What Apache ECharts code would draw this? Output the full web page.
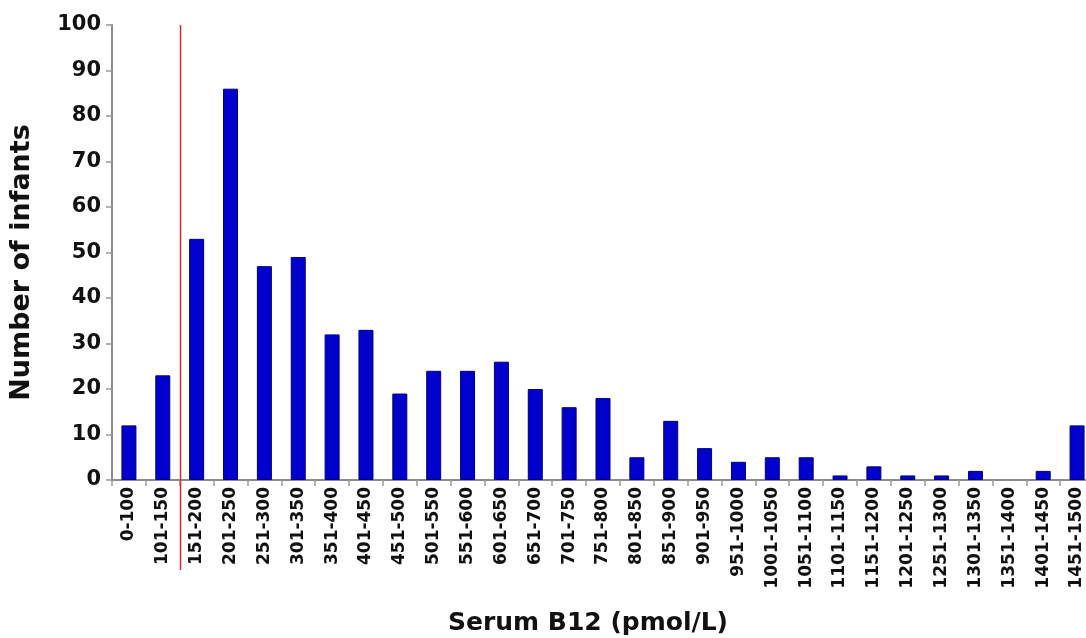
<!DOCTYPE html>
<html>
<head>
<meta charset="utf-8">
<script src="https://cdn.jsdelivr.net/npm/echarts@6/dist/echarts.min.js"></script>
<style>
  html, body { margin: 0; padding: 0; background: #fff; }
  #chart { width: 1086px; height: 638px; }
</style>
</head>
<body>
<div id="chart"></div>
<script>
  // B12 bins (pmol/L)
  var categories = ['0-100', '101-150', '151-200', '201-250', '251-300', '301-350', '351-400',
    '401-450', '451-500', '501-550', '551-600', '601-650', '651-700', '701-750', '751-800',
    '801-850', '851-900', '901-950', '951-1000', '1001-1050', '1051-1100', '1101-1150',
    '1151-1200', '1201-1250', '1251-1300', '1301-1350', '1351-1400', '1401-1450', '1451-1500'];
  var counts = [12, 23, 53, 86, 47, 49, 32, 33, 19, 24, 24, 26, 20, 16, 18,
    5, 13, 7, 4, 5, 5, 1, 3, 1, 1, 2, 0, 2, 12];
  var yTicks = [0, 100, 10];
  // cutoff drawn between these two bins
  var cutoffAfter = 1;

  var font = '"DejaVu Sans", Arial, sans-serif';
  var chart = echarts.init(document.getElementById('chart'));

  // empty bins get no outline
  var barData = counts.map(function (v) {
    return v === 0 ? { value: v, itemStyle: { borderWidth: 0 } } : v;
  });

  var option = {
    animation: false,
    grid: { left: 112, right: -8, top: 25, bottom: 158, outerBoundsMode: 'none' },
    xAxis: {
      type: 'category',
      data: categories,
      name: 'Serum B12 (pmol/L)',
      nameLocation: 'middle',
      nameGap: 131,
      nameTextStyle: { fontFamily: font, fontWeight: 'bold', fontSize: 25, color: '#111', padding: [0, 30, 0, 0] },
      axisLine: { lineStyle: { color: '#8c8c8c', width: 2 } },
      axisTick: { show: true, length: 6, lineStyle: { color: '#999', width: 1.5 } },
      axisLabel: {
        rotate: 90,
        interval: 0,
        margin: 7,
        fontFamily: font,
        fontWeight: 'bold',
        fontSize: 17,
        color: '#111'
      }
    },
    yAxis: {
      type: 'value',
      min: yTicks[0],
      max: yTicks[1],
      interval: yTicks[2],
      name: 'Number of infants',
      nameLocation: 'middle',
      nameGap: 77,
      nameTextStyle: { fontFamily: font, fontWeight: 'bold', fontSize: 27, color: '#111', padding: [0, 20, 0, 0] },
      axisLine: { show: true, lineStyle: { color: '#8c8c8c', width: 2 } },
      axisTick: { show: true, length: 6, lineStyle: { color: '#999', width: 1.5 } },
      splitLine: { show: false },
      axisLabel: {
        margin: 11,
        fontFamily: font,
        fontWeight: 'bold',
        fontSize: 21,
        color: '#111'
      }
    },
    series: [{
      type: 'bar',
      data: barData,
      barWidth: 15,
      itemStyle: { color: '#0000cc', borderColor: '#00007a', borderWidth: 1 }
    }]
  };
  chart.setOption(option);

  // red cutoff line between bins, placed via the axes
  function drawCutoff() {
    var xa = chart.convertToPixel({ xAxisIndex: 0 }, cutoffAfter);
    var xb = chart.convertToPixel({ xAxisIndex: 0 }, cutoffAfter + 1);
    var x = Math.round((xa + xb) / 2) + 0.5;
    var yTop = chart.convertToPixel({ yAxisIndex: 0 }, yTicks[1]);
    var yZero = chart.convertToPixel({ yAxisIndex: 0 }, yTicks[0]);
    chart.setOption({
      graphic: [{
        type: 'line',
        z: 100,
        shape: { x1: x, y1: yTop, x2: x, y2: yZero + 90 },
        style: { stroke: '#e0282c', lineWidth: 1.5 }
      }]
    });
  }
  drawCutoff();
</script>
</body>
</html>
